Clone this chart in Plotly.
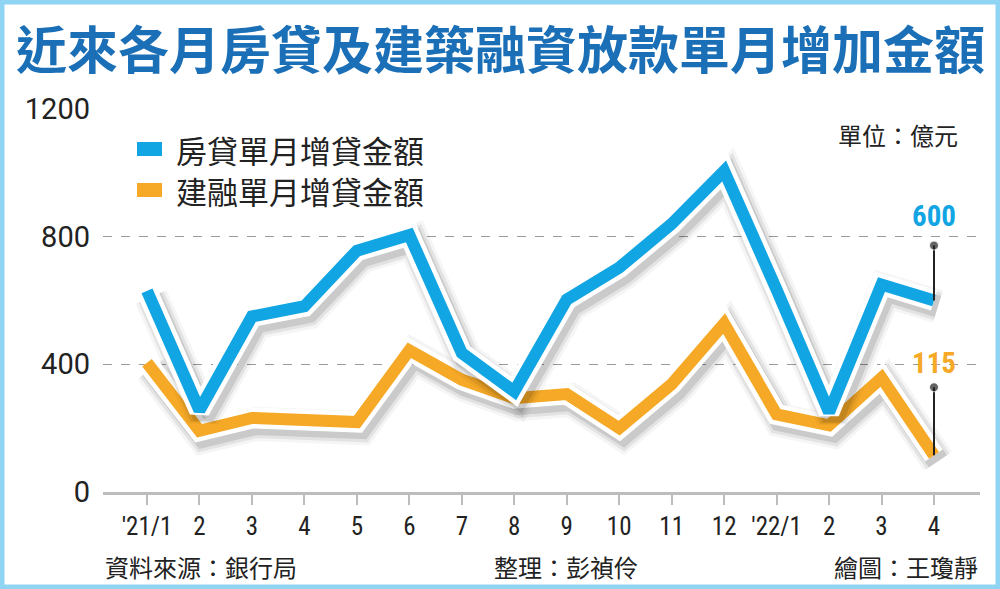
import plotly.graph_objects as go

# 各月房貸 / 建融單月增加金額 (億元)
months = ["'21/1", "2", "3", "4", "5", "6", "7", "8", "9", "10", "11", "12",
          "'22/1", "2", "3", "4"]
mortgage = [630, 256, 550, 582, 756, 805, 435, 315, 603, 703, 840, 1006,
            634, 250, 650, 600]
construction = [405, 192, 232, 230, 219, 444, 352, 294, 307, 200, 338, 528,
                243, 209, 358, 115]
y_ticks = [0, 400, 800, 1200]

BLUE = "#12a5e3"
ORANGE = "#f6a926"
TITLE_BLUE = "#1b6fb7"
CJK = "Noto Sans CJK TC"
NUM = "Roboto Condensed, Liberation Sans Narrow, Roboto, sans-serif"

x = list(range(len(months)))

# plot area in pixels (figure 1000x589)
L, R, T, B = 103, 980, 109, 492
x_range = [-0.839, 15.877]
y_range = [0, 1200]
ux = (x_range[1] - x_range[0]) / (R - L)   # data units per px
uy = (y_range[1] - y_range[0]) / (B - T)


def fx(px):
    return (px - L) / (R - L)


def fy(py):
    return (B - py) / (B - T)


# shadow offset (px) -> shifted axis ranges
sdx, sdy = 4, 6
x_shift = [x_range[0] - sdx * ux, x_range[1] - sdx * ux]
y_shift = [y_range[0] + sdy * uy, y_range[1] + sdy * uy]

fig = go.Figure()


def add_series(vals, color, n_shadow, n_line):
    xs, ys = "x%d" % n_shadow, "y%d" % n_shadow
    for w, a in [(34, 0.04), (28, 0.07), (22, 0.11)]:
        fig.add_trace(go.Scatter(x=x, y=vals, mode="lines", xaxis=xs, yaxis=ys,
                                 line=dict(color="rgba(0,0,0,%s)" % a, width=w),
                                 hoverinfo="skip", showlegend=False))
    xl, yl = "x%d" % n_line, "y%d" % n_line
    fig.add_trace(go.Scatter(x=x, y=vals, mode="lines", xaxis=xl, yaxis=yl,
                             line=dict(color="white", width=21),
                             hoverinfo="skip", showlegend=False))
    fig.add_trace(go.Scatter(x=x, y=vals, mode="lines", xaxis=xl, yaxis=yl,
                             line=dict(color=color, width=12),
                             showlegend=False))


# base axes need a trace
fig.add_trace(go.Scatter(x=[x[0]], y=[None], mode="lines", showlegend=False))
add_series(construction, ORANGE, 2, 3)
add_series(mortgage, BLUE, 4, 5)

# 標示最後一期數值
blue_top = mortgage[-1] + 55 * uy
orange_top = construction[-1] + 68 * uy
for vals, top in [(mortgage, blue_top), (construction, orange_top)]:
    fig.add_trace(go.Scatter(x=[x[-1], x[-1]], y=[vals[-1], top],
                             mode="lines+markers", xaxis="x5", yaxis="y5",
                             line=dict(color="#222222", width=2),
                             marker=dict(size=[0, 9], color="#222222"),
                             showlegend=False, hoverinfo="skip"))


def note(text, px, py, size, color="#222222", xanchor="center", family=CJK):
    return dict(text=text, x=fx(px), y=fy(py), xref="paper", yref="paper",
                xanchor=xanchor, yanchor="middle", showarrow=False,
                font=dict(family=family, size=size, color=color))


annotations = [
    note("<b>近來各月房貸及建築融資放款單月增加金額</b>", 500, 47, 51, TITLE_BLUE),
    note("單位：億元", 960, 134, 24, xanchor="right"),
    note("房貸單月增貸金額", 174, 149, 31, xanchor="left"),
    note("建融單月增貸金額", 174, 190, 31, xanchor="left"),
    note("資料來源：銀行局", 103, 566, 24, xanchor="left"),
    note("整理：彭禎伶", 566, 566, 24),
    note("繪圖：王瓊靜", 980, 566, 24, xanchor="right"),
    dict(text="<b>%d</b>" % mortgage[-1], x=x[-1], y=blue_top + 30 * uy,
         xref="x", yref="y", showarrow=False, yanchor="middle",
         font=dict(family=NUM, size=29, color=BLUE)),
    dict(text="<b>%d</b>" % construction[-1], x=x[-1], y=orange_top + 24 * uy,
         xref="x", yref="y", showarrow=False, yanchor="middle",
         font=dict(family=NUM, size=29, color=ORANGE)),
]

shapes = [
    # legend swatches
    dict(type="rect", xref="paper", yref="paper", x0=fx(137), x1=fx(162),
         y0=fy(156), y1=fy(142), fillcolor=BLUE, line=dict(width=0)),
    dict(type="rect", xref="paper", yref="paper", x0=fx(137), x1=fx(162),
         y0=fy(197), y1=fy(183), fillcolor=ORANGE, line=dict(width=0)),
    # outer frame
    dict(type="rect", xref="paper", yref="paper", x0=fx(2), x1=fx(998),
         y0=fy(587), y1=fy(2), line=dict(color="#8fd4f2", width=5)),
]

overlay = dict(overlaying="x", visible=False, fixedrange=True)
overlay_y = dict(overlaying="y", visible=False, fixedrange=True)

fig.update_layout(
    width=1000, height=589,
    margin=dict(l=L, r=1000 - R, t=T, b=589 - B, pad=0),
    paper_bgcolor="white", plot_bgcolor="white",
    showlegend=False,
    xaxis=dict(range=x_range, tickvals=x, ticktext=months, showgrid=False,
               zeroline=False, showline=True, linecolor="#bdbdbd", linewidth=3,
               ticks="outside", ticklen=10, tickwidth=2, tickcolor="#bdbdbd",
               tickfont=dict(family=NUM, size=25, color="#222222"),
               ticklabelstandoff=0),
    yaxis=dict(range=y_range, tickvals=y_ticks, showgrid=True,
               gridcolor="#9a9a9a", griddash="dash", gridwidth=1.3,
               zeroline=False, showline=False,
               tickfont=dict(family="Roboto, sans-serif", size=29,
                             color="#222222"),
               ticklabelstandoff=12),
    xaxis2=dict(range=x_shift, **overlay),
    yaxis2=dict(range=y_shift, **overlay_y),
    xaxis3=dict(range=x_range, **overlay),
    yaxis3=dict(range=y_range, **overlay_y),
    xaxis4=dict(range=x_shift, **overlay),
    yaxis4=dict(range=y_shift, **overlay_y),
    xaxis5=dict(range=x_range, **overlay),
    yaxis5=dict(range=y_range, **overlay_y),
    annotations=annotations,
    shapes=shapes,
)

fig.write_html("out.html", config={"displayModeBar": False},
               post_script="document.body.style.margin='0';")
